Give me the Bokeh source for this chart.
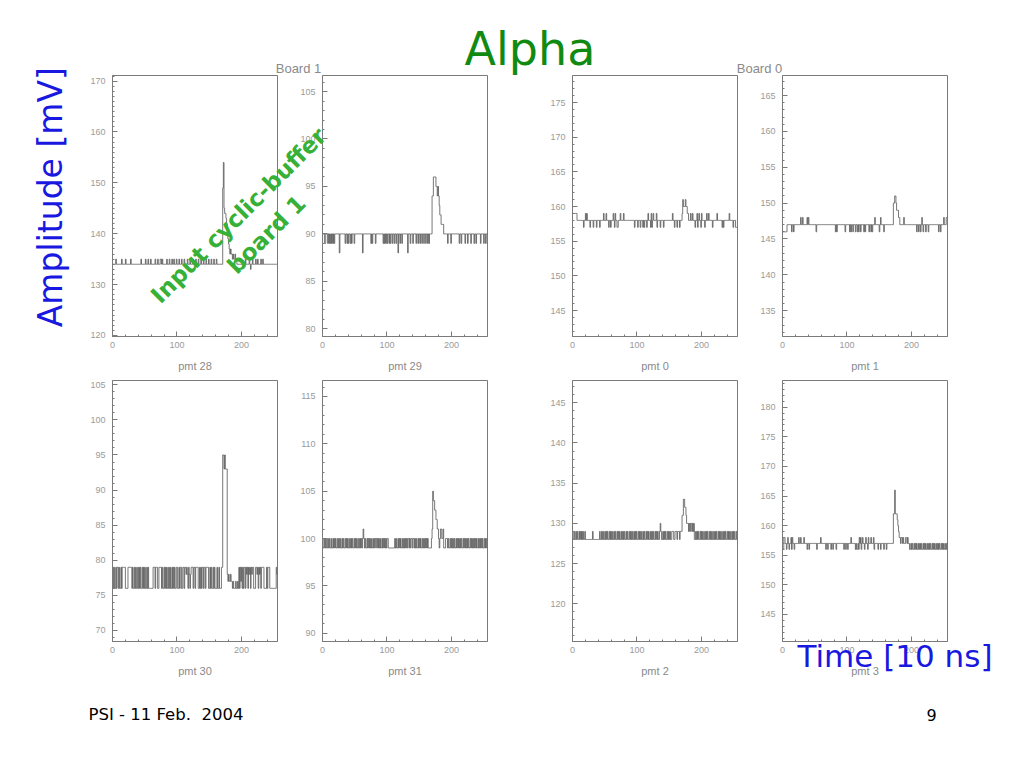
import math
from bokeh.plotting import figure
from bokeh.models import Range1d, SingleIntervalTicker, Label, GridBox
from bokeh.embed import file_html
from bokeh.resources import INLINE

N_BINS = 256

# ---------------- data ----------------
panel_names = ["pmt 28", "pmt 29", "pmt 0", "pmt 1", "pmt 30", "pmt 31", "pmt 2", "pmt 3"]

# pmt 28
pmt28_base = 134
pmt28_up135 = [5, 14, 20, 28, 44, 51, 55, 59, 66, 70, 74, 75, 77, 84, 88, 92, 95, 99, 103, 107,
               111, 116, 120, 124, 129, 133, 137, 141, 145, 149, 153, 157, 161, 206, 212, 217,
               222, 225, 230, 233]
pmt28_down133 = [214]
pmt28_peak = {171: 149, 172: 154, 173: 145, 174: 144, 175: 144, 176: 143, 177: 142, 178: 140,
              179: 139, 180: 138, 181: 137, 182: 136, 183: 137, 184: 136, 185: 136, 186: 135,
              187: 136, 188: 135, 189: 135, 190: 136, 191: 135, 192: 135}

# pmt 29
pmt29_base = 90
pmt29_down89 = [3, 4, 8, 10, 12, 14, 16, 18, 35, 38, 40, 43, 45, 49, 75, 77, 82, 94, 96, 98, 100,
                103, 105, 108, 111, 114, 120, 123, 136, 140, 145, 148, 151, 154, 157, 160, 163,
                165, 194, 199, 212, 215, 221, 225, 230, 235, 238, 245, 250, 253]
pmt29_down88 = [26, 62, 117, 132]
pmt29_peak = {170: 94, 171: 94, 172: 96, 173: 96, 174: 96, 175: 96, 176: 95, 177: 95, 178: 94,
              179: 95, 180: 94, 181: 93, 182: 92, 183: 92, 184: 91, 185: 91, 186: 91, 187: 91}

# pmt 0
pmt0_base = 158
pmt0_up159 = [0, 1, 2, 3, 4, 5, 6, 20, 22, 48, 52, 63, 66, 74, 79, 117, 122, 125, 130, 155, 183,
              186, 193, 196, 200, 208, 211, 224, 243]
pmt0_down157 = [17, 27, 32, 37, 42, 56, 59, 65, 69, 70, 96, 101, 105, 109, 111, 115, 121, 123,
                131, 136, 141, 158, 162, 166, 190, 194, 199, 205, 217, 232, 234, 249, 253, 254, 255]
pmt0_peak = {170: 159, 171: 161, 172: 160, 173: 160, 174: 160, 175: 161, 176: 160, 177: 160,
             178: 159, 179: 159}

# pmt 1
pmt1_base = 147
pmt1_down146 = [0, 1, 2, 3, 4, 5, 6, 14, 17, 52, 82, 84, 97, 104, 106, 109, 113, 116, 118, 121,
                126, 128, 134, 137, 139, 150, 157, 208, 211, 214, 218, 222, 226, 242, 245]
pmt1_up148 = [28, 31, 38, 40, 143, 152, 188, 216, 250, 254, 255]
pmt1_peak = {172: 150, 173: 150, 174: 151, 175: 151, 176: 150, 177: 149, 178: 149, 179: 149,
             180: 148, 181: 148}

# pmt 30
pmt30_base = 79
pmt30_down76 = [1, 3, 4, 6, 9, 11, 12, 14, 20, 21, 22, 23, 30, 32, 33, 35, 37, 38, 40, 42, 44, 45,
                47, 49, 51, 52, 54, 56, 57, 58, 59, 60, 61, 62, 66, 70, 71, 76, 78, 79, 81, 83,
                85, 86, 88, 90, 91, 93, 95, 97, 98, 101, 102, 104, 107, 108, 111, 117, 120, 125,
                128, 133, 134, 136, 138, 141, 144, 149, 150, 152, 154, 155, 157, 159, 160, 161,
                163, 164, 166, 167, 168, 201, 203, 206, 210, 214, 219, 220, 221, 226, 230, 235,
                236, 237, 238, 240, 244, 245, 246, 247, 248, 249, 250, 251, 252, 253]
pmt30_peak = {114: 78, 116: 78, 119: 78, 121: 78, 171: 95, 172: 95, 173: 93, 174: 95, 175: 93,
              176: 93, 177: 93, 178: 78, 179: 77, 180: 78, 181: 77, 182: 77, 183: 78, 184: 77,
              185: 77, 186: 76, 187: 77, 188: 76, 189: 76, 190: 76, 191: 77, 192: 76, 193: 76,
              194: 77, 195: 76, 197: 76, 199: 77, 208: 78, 212: 78, 216: 78, 224: 78, 228: 78,
              255: 78}

# pmt 31
pmt31_base = 100
pmt31_down99 = [1, 2, 4, 6, 7, 9, 11, 12, 14, 15, 17, 19, 21, 22, 24, 26, 28, 29, 31, 33, 34, 36,
                38, 40, 41, 43, 45, 47, 48, 50, 52, 54, 55, 57, 59, 61, 65, 67, 68, 70, 72, 74,
                76, 77, 79, 81, 84, 86, 88, 90, 91, 93, 95, 97, 99, 102, 103, 104, 105, 106, 107,
                108, 109, 110, 111, 113, 115, 116, 118, 120, 122, 123, 125, 127, 129, 131, 134,
                136, 139, 142, 144, 146, 147, 149, 151, 153, 154, 156, 158, 160, 162, 164, 165,
                166, 167, 168, 194, 196, 197, 199, 201, 203, 205, 206, 208, 210, 212, 214, 216,
                217, 219, 221, 223, 225, 227, 228, 230, 232, 234, 236, 238, 240, 241, 243, 245,
                247, 249, 250, 252, 254]
pmt31_up101 = [63]
pmt31_peak = {170: 101, 171: 105, 172: 104, 173: 104, 174: 103, 175: 103, 176: 102, 177: 102,
              178: 101, 179: 101, 180: 100, 181: 99, 182: 100, 183: 101, 184: 101, 185: 100,
              186: 100, 187: 101, 188: 99, 189: 99, 190: 99}

# pmt 2
pmt2_base = 129
pmt2_down128 = [0, 1, 3, 4, 6, 8, 9, 11, 13, 15, 17, 18, 20, 21, 22, 23, 24, 25, 26, 27, 28, 29,
                30, 32, 33, 34, 35, 36, 37, 38, 39, 40, 41, 43, 44, 46, 48, 49, 51, 53, 55, 56,
                58, 60, 62, 63, 65, 67, 68, 70, 72, 74, 75, 77, 79, 81, 82, 84, 86, 87, 89, 91,
                93, 94, 96, 98, 100, 101, 103, 105, 107, 108, 110, 112, 113, 115, 117, 119, 120,
                122, 124, 126, 127, 129, 131, 133, 134, 138, 139, 141, 143, 145, 146, 148, 150,
                152, 153, 157, 158, 162, 166, 189, 190, 192, 194, 196, 197, 199, 201, 203, 204,
                206, 208, 210, 211, 213, 215, 217, 218, 220, 222, 224, 225, 227, 229, 231, 232,
                234, 236, 238, 239, 241, 243, 245, 246, 248, 250, 252, 253, 255]
pmt2_up130 = [136]
pmt2_peak = {170: 131, 171: 131, 172: 133, 173: 133, 174: 132, 175: 132, 176: 131, 177: 130,
             178: 130, 179: 130, 180: 129, 181: 130, 182: 129, 183: 130, 184: 130, 185: 129,
             186: 130, 187: 129, 188: 130}

# pmt 3
pmt3_base = 157
pmt3_up158 = [2, 3, 8, 13, 15, 25, 28, 33, 59, 106, 119, 121, 124, 129, 133, 137, 141, 191, 192,
              194]
pmt3_down156 = [0, 1, 6, 10, 14, 18, 38, 41, 53, 67, 70, 75, 78, 83, 95, 98, 101, 113, 115, 116,
                118, 122, 127, 132, 142, 148, 152, 157, 161, 197, 198, 200, 202, 203, 205, 207,
                209, 210, 212, 214, 216, 217, 219, 221, 223, 224, 226, 228, 230, 231, 233, 235,
                237, 238, 240, 242, 244, 245, 247, 249, 251, 252, 254]
pmt3_peak = {172: 162, 173: 162, 174: 166, 175: 162, 176: 162, 177: 162, 178: 161, 179: 160,
             180: 159, 181: 158, 182: 158, 183: 157, 184: 158, 185: 158, 186: 157, 187: 158}

# y-axis ranges (start, end) and label interval of each panel
y_ranges = [(119.8, 171.1), (79.19, 106.69), (141.25, 178.9), (131.4, 167.8),
            (68.43, 105.61), (89.12, 116.69), (115.31, 147.77), (140.44, 184.51)]
y_intervals = [10, 5, 5, 5, 5, 5, 5, 5]
y_minors = [10, 5, 5, 5, 5, 5, 5, 5]


def build(base, groups, special):
    vals = [base] * N_BINS
    for level, bins in groups:
        for b in bins:
            vals[b] = level
    for b, v in special.items():
        vals[b] = v
    return vals


series = [
    build(pmt28_base, [(135, pmt28_up135), (133, pmt28_down133)], pmt28_peak),
    build(pmt29_base, [(89, pmt29_down89), (88, pmt29_down88)], pmt29_peak),
    build(pmt0_base, [(159, pmt0_up159), (157, pmt0_down157)], pmt0_peak),
    build(pmt1_base, [(146, pmt1_down146), (148, pmt1_up148)], pmt1_peak),
    build(pmt30_base, [(76, pmt30_down76)], pmt30_peak),
    build(pmt31_base, [(99, pmt31_down99), (101, pmt31_up101)], pmt31_peak),
    build(pmt2_base, [(128, pmt2_down128), (130, pmt2_up130)], pmt2_peak),
    build(pmt3_base, [(158, pmt3_up158), (156, pmt3_down156)], pmt3_peak),
]

bin_edges = list(range(N_BINS + 1))

# ---------------- layout ----------------
FRAME_W, FRAME_H = 165, 261
BL, BR, BT, BB = 30, 6, 6, 40
frame_lefts = [112, 322, 572, 782]
frame_tops = [75, 380]
PAGE_W, PAGE_H = 1008, 766

AX = "#7a7a7a"
TXT = "#9a9a9a"

panels = []
for i, name in enumerate(panel_names):
    row, col = divmod(i, 4)
    p = figure(width=BL + FRAME_W + BR, height=BT + FRAME_H + BB,
               x_range=Range1d(0, 256), y_range=Range1d(*y_ranges[i]),
               toolbar_location=None, output_backend="svg",
               min_border_left=BL, min_border_right=BR,
               min_border_top=BT, min_border_bottom=BB,
               border_fill_color=None, background_fill_color="white")
    p.outline_line_color = AX
    p.outline_line_width = 1
    p.xgrid.visible = False
    p.ygrid.visible = False
    p.xaxis.ticker = SingleIntervalTicker(interval=100, num_minor_ticks=5)
    p.yaxis.ticker = SingleIntervalTicker(interval=y_intervals[i], num_minor_ticks=y_minors[i])
    for ax in (p.xaxis, p.yaxis):
        ax.axis_line_color = AX
        ax.major_tick_line_color = AX
        ax.minor_tick_line_color = AX
        ax.major_tick_in = 5
        ax.major_tick_out = 0
        ax.minor_tick_in = 2
        ax.minor_tick_out = 0
        ax.major_label_text_font = "Liberation Sans"
        ax.major_label_text_font_size = "9px"
        ax.major_label_text_color = TXT
    p.yaxis.major_label_standoff = 7
    p.xaxis.major_label_standoff = 5
    p.xaxis.axis_label = name
    p.xaxis.axis_label_text_font = "Liberation Sans"
    p.xaxis.axis_label_text_font_size = "11px"
    p.xaxis.axis_label_text_font_style = "normal"
    p.xaxis.axis_label_text_color = "#8a8a8a"
    p.xaxis.axis_label_standoff = 9
    vals = series[i]
    p.step(bin_edges, vals + [vals[-1]], mode="after", line_color="#555555", line_width=0.8)
    p.margin = (frame_tops[row] - BT, 0, 0, frame_lefts[col] - BL)
    panels.append(p)

# overlay with slide texts; its data coordinates are page pixels
ov = figure(width=PAGE_W, height=PAGE_H,
            x_range=Range1d(BL, PAGE_W - BR), y_range=Range1d(PAGE_H - BB, BT),
            toolbar_location=None, output_backend="svg",
            min_border_left=BL, min_border_right=BR, min_border_top=BT, min_border_bottom=BB,
            x_axis_location=None, y_axis_location=None,
            background_fill_color=None, border_fill_color=None, outline_line_color=None)
ov.xgrid.visible = False
ov.ygrid.visible = False
ov.margin = (0, 0, 0, 0)

# the renderer puts the baseline about 0.4 em below the anchor; anchors are corrected for it
def base_shift(size):
    return 0.4 * size

BLUE = "#1818e0"
ov.add_layout(Label(x=529.5, y=66.7 - base_shift(46), text="Alpha", text_align="center",
                    text_baseline="alphabetic", text_font="DejaVu Sans",
                    text_font_size="46px", text_color="#118a11"))
ov.add_layout(Label(x=63.5 - base_shift(33), y=326.7, text="Amplitude [mV]", angle=math.pi / 2,
                    text_align="left", text_baseline="alphabetic", text_font="DejaVu Sans",
                    text_font_size="33px", text_color=BLUE))
ov.add_layout(Label(x=797, y=668.3 - base_shift(31), text="Time [10 ns]", text_align="left",
                    text_baseline="alphabetic", text_font="DejaVu Sans",
                    text_font_size="31px", text_color=BLUE))
ov.add_layout(Label(x=88, y=720.7 - base_shift(16.5), text="PSI - 11 Feb.\u00a0 2004",
                    text_align="left", text_baseline="alphabetic", text_font="DejaVu Sans",
                    text_font_size="16.5px", text_color="black"))
ov.add_layout(Label(x=926, y=720.7 - base_shift(16), text="9", text_align="left",
                    text_baseline="alphabetic", text_font="DejaVu Sans",
                    text_font_size="16px", text_color="black"))
ov.add_layout(Label(x=298, y=73.3 - base_shift(13), text="Board 1", text_align="center",
                    text_baseline="alphabetic", text_font="Liberation Sans",
                    text_font_size="13px", text_color="#8a8a8a"))
ov.add_layout(Label(x=759, y=73.3 - base_shift(13), text="Board 0", text_align="center",
                    text_baseline="alphabetic", text_font="Liberation Sans",
                    text_font_size="13px", text_color="#8a8a8a"))
GREEN = "#36b036"
ov.add_layout(Label(x=238, y=215, text="Input cyclic-buffer", angle=math.pi / 4,
                    text_align="center", text_baseline="middle", text_font="DejaVu Sans",
                    text_font_style="bold", text_font_size="23px", text_color=GREEN))
ov.add_layout(Label(x=266, y=234, text="board 1", angle=math.pi / 4,
                    text_align="center", text_baseline="middle", text_font="DejaVu Sans",
                    text_font_style="bold", text_font_size="23px", text_color=GREEN))

children = [(p, 0, 0) for p in panels] + [(ov, 0, 0)]
layout = GridBox(children=children)

open("out.html", "w").write(file_html(layout, INLINE))
